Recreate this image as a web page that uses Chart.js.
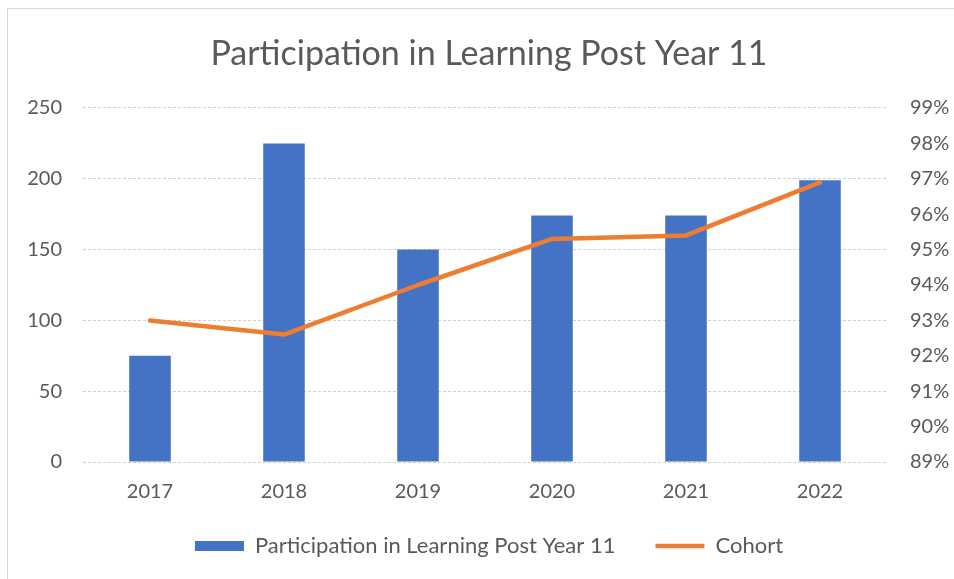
<!DOCTYPE html>
<html>
<head>
<meta charset="utf-8">
<script src="https://cdn.jsdelivr.net/npm/chart.js@4"></script>
<style>
  html, body { margin: 0; padding: 0; background: #ffffff; }
  #wrap { position: relative; width: 954px; height: 579px; overflow: hidden; }
  #frame { position: absolute; left: 7px; top: 8px; width: 1000px; height: 700px; border: 1px solid #d9d9d9; box-sizing: border-box; }
  canvas { position: absolute; left: 0; top: 0; }
</style>
</head>
<body>
<div id="wrap">
  <div id="frame"></div>
  <canvas id="c" width="954" height="579"></canvas>
</div>
<script>
const years = ['2017', '2018', '2019', '2020', '2021', '2022'];
const participation = [75, 225, 150, 174, 174, 199];
const cohortPct = [93.0, 92.6, 94.0, 95.3, 95.4, 96.9];
const leftTicks = [0, 50, 100, 150, 200, 250];
const rightTicks = [89, 90, 91, 92, 93, 94, 95, 96, 97, 98, 99];
const chartTitle = 'Participation in Learning Post Year 11';
const barLabel = 'Participation in Learning Post Year 11';
const lineLabel = 'Cohort';

const FONT = 'Lato, "Noto Sans", sans-serif';
const GREY = '#595959';
const PAD_LEFT = 24;

new Chart(document.getElementById('c'), {
  data: {
    labels: years,
    datasets: [
      {
        type: 'bar',
        label: barLabel,
        data: participation,
        backgroundColor: '#4472C4',
        borderWidth: 0,
        yAxisID: 'y',
        categoryPercentage: 1.0,
        barPercentage: 0.31,
        pointStyle: 'rect',
        order: 2
      },
      {
        type: 'line',
        label: lineLabel,
        data: cohortPct,
        borderColor: '#ED7D31',
        backgroundColor: '#ED7D31',
        borderWidth: 4.5,
        borderCapStyle: 'round',
        borderJoinStyle: 'round',
        pointRadius: 0,
        pointHoverRadius: 0,
        pointStyle: 'line',
        tension: 0,
        yAxisID: 'y1',
        order: 1
      }
    ]
  },
  options: {
    responsive: false,
    animation: false,
    layout: { padding: { left: PAD_LEFT, right: 0, top: 0, bottom: 12 } },
    plugins: {
      tooltip: { enabled: false },
      title: {
        display: true,
        text: chartTitle,
        color: GREY,
        font: { family: FONT, size: 34, weight: 'normal' },
        padding: { top: 33.4, bottom: 33.8 }
      },
      legend: {
        position: 'bottom',
        labels: {
          color: GREY,
          font: { family: FONT, size: 22 },
          usePointStyle: true,
          pointStyleWidth: 49,
          boxHeight: 10,
          padding: 40,
          sort: (a, b) => a.datasetIndex - b.datasetIndex
        }
      }
    },
    scales: {
      x: {
        grid: { display: false, drawTicks: false },
        border: { display: false },
        ticks: { color: GREY, font: { family: FONT, size: 20 }, padding: 18, maxRotation: 0 },
        afterFit: (s) => { s.height = 33; },
        afterUpdate: (s) => { s._computeLabelArea = () => undefined; }
      },
      y: {
        position: 'left',
        min: 0,
        max: 250,
        afterBuildTicks: (s) => { s.ticks = leftTicks.map(v => ({ value: v })); },
        grid: { color: '#d0d0d0', lineWidth: 1, drawTicks: false },
        border: { display: false, dash: [3, 2] },
        ticks: { color: GREY, font: { family: FONT, size: 20 }, padding: 21 },
        afterFit: (s) => { s.width = 83 - PAD_LEFT; }
      },
      y1: {
        position: 'right',
        min: 89,
        max: 99,
        afterBuildTicks: (s) => { s.ticks = rightTicks.map(v => ({ value: v })); },
        grid: { drawOnChartArea: false, drawTicks: false },
        border: { display: false },
        ticks: { color: GREY, font: { family: FONT, size: 20 }, padding: 23, callback: (v) => v + '%' },
        afterFit: (s) => { s.width = 954 - 887; }
      }
    }
  }
});
</script>
</body>
</html>
